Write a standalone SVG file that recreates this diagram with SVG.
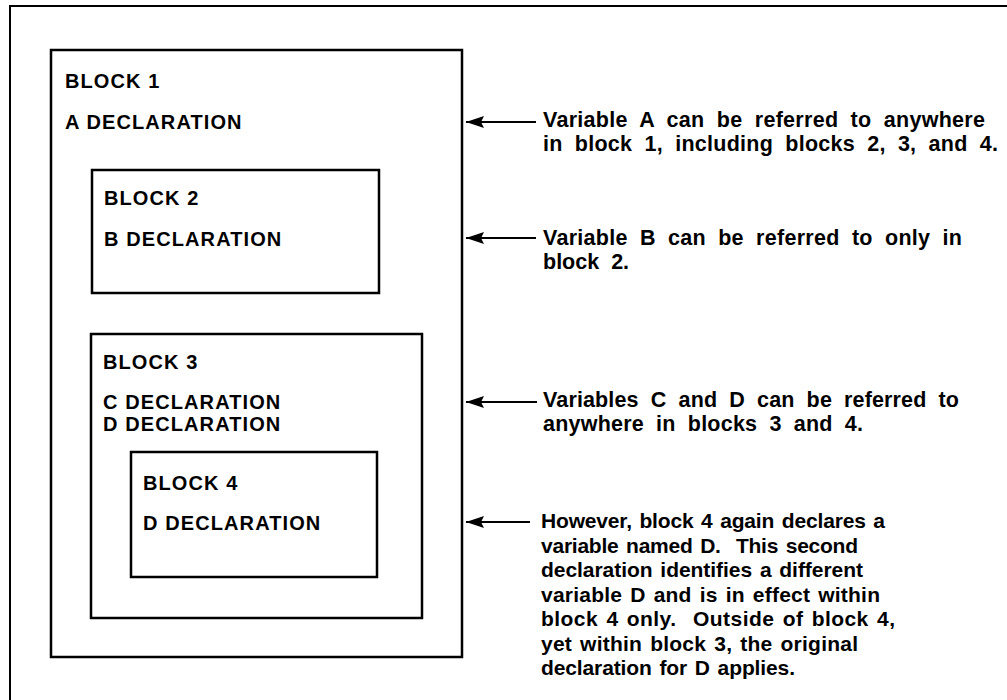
<svg xmlns="http://www.w3.org/2000/svg" width="1007" height="700" viewBox="0 0 1007 700">
<defs>
<marker id="ah" markerUnits="userSpaceOnUse" markerWidth="20" markerHeight="14" refX="19" refY="7" orient="auto">
<path d="M19,7 L1,1 L4,7 L1,13 Z" fill="#000"/>
</marker>
<style>
.box{fill:none;stroke:#000;stroke-width:2.5}
.frame{fill:none;stroke:#000;stroke-width:2}
.lbl{font-family:"Liberation Sans",Arial,sans-serif;font-weight:bold;font-size:20px;letter-spacing:1.1px;fill:#000}
.desc{font-family:"Liberation Sans",Arial,sans-serif;font-weight:bold;font-size:21.5px;word-spacing:6px;fill:#000}
.tight{font-size:21px;word-spacing:2px;white-space:pre}
.conn{stroke:#000;stroke-width:2;fill:none}
</style>
</defs>
<rect width="1007" height="700" fill="#fff"/>
<path class="frame" d="M10,700 V6 H1007"/>
<g id="block1">
<rect class="box" x="51" y="50" width="411" height="607"/>
<text class="lbl" x="65" y="88">BLOCK 1</text>
<text class="lbl" x="65" y="129">A DECLARATION</text>
</g>
<g id="block2">
<rect class="box" x="92" y="170" width="287" height="123"/>
<text class="lbl" x="104" y="205">BLOCK 2</text>
<text class="lbl" x="104" y="246">B DECLARATION</text>
</g>
<g id="block3">
<rect class="box" x="91" y="334" width="331" height="284"/>
<text class="lbl" x="103" y="369">BLOCK 3</text>
<text class="lbl" x="103" y="409">C DECLARATION</text>
<text class="lbl" x="103" y="431">D DECLARATION</text>
</g>
<g id="block4">
<rect class="box" x="131" y="452" width="246" height="125"/>
<text class="lbl" x="143" y="490">BLOCK 4</text>
<text class="lbl" x="143" y="530">D DECLARATION</text>
</g>
<g id="connectors">
<line class="conn" x1="536" y1="122" x2="466" y2="122" marker-end="url(#ah)"/>
<line class="conn" x1="536" y1="238" x2="466" y2="238" marker-end="url(#ah)"/>
<line class="conn" x1="537" y1="402" x2="466" y2="402" marker-end="url(#ah)"/>
<line class="conn" x1="530" y1="522" x2="466" y2="522" marker-end="url(#ah)"/>
</g>
<g id="noteA">
<text class="desc" x="543" y="127" textLength="442" lengthAdjust="spacing">Variable A can be referred to anywhere</text>
<text class="desc" x="543" y="151" textLength="455" lengthAdjust="spacing">in block 1, including blocks 2, 3, and 4.</text>
</g>
<g id="noteB">
<text class="desc" x="543" y="245" textLength="419" lengthAdjust="spacing">Variable B can be referred to only in</text>
<text class="desc" x="543" y="269">block 2.</text>
</g>
<g id="noteCD">
<text class="desc" x="543" y="407" textLength="416" lengthAdjust="spacing">Variables C and D can be referred to</text>
<text class="desc" x="543" y="431" textLength="320" lengthAdjust="spacing">anywhere in blocks 3 and 4.</text>
</g>
<g id="noteD">
<text class="desc tight" x="541" y="528" textLength="344" lengthAdjust="spacing">However, block 4 again declares a</text>
<text class="desc tight" x="541" y="552.5" textLength="317" lengthAdjust="spacing">variable named D.  This second</text>
<text class="desc tight" x="541" y="577" textLength="322" lengthAdjust="spacing">declaration identifies a different</text>
<text class="desc tight" x="541" y="601.5" textLength="339" lengthAdjust="spacing">variable D and is in effect within</text>
<text class="desc tight" x="541" y="626" textLength="354" lengthAdjust="spacing">block 4 only.  Outside of block 4,</text>
<text class="desc tight" x="541" y="650.5" textLength="317" lengthAdjust="spacing">yet within block 3, the original</text>
<text class="desc tight" x="541" y="675" textLength="254" lengthAdjust="spacing">declaration for D applies.</text>
</g>
</svg>
